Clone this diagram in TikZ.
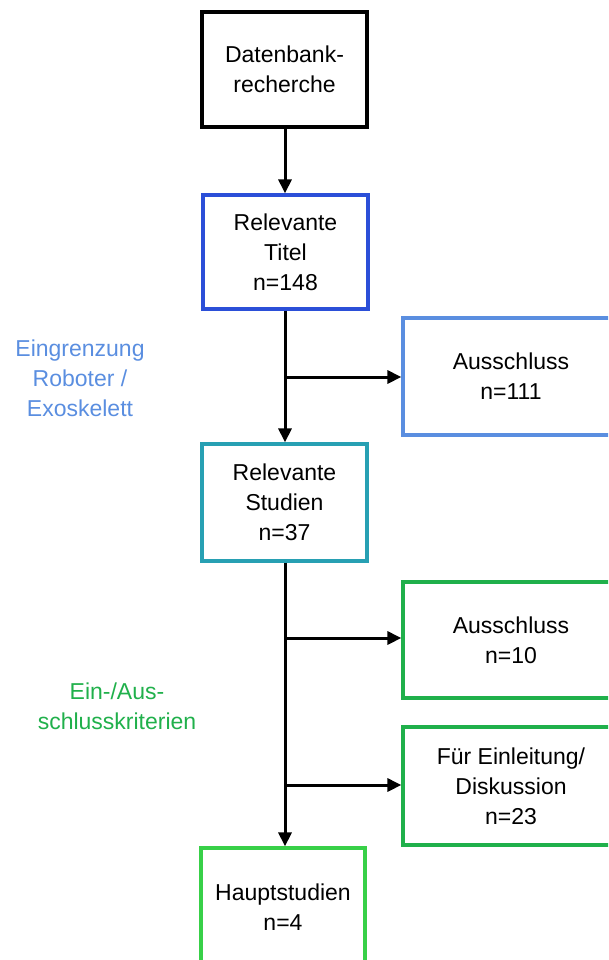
\documentclass[tikz,border=0pt]{standalone}
\usepackage{fontspec}
\setmainfont{Liberation Sans}
\usetikzlibrary{arrows.meta}
\definecolor{cBlue}{HTML}{2B4FD8}
\definecolor{cLBlue}{HTML}{5A8EE0}
\definecolor{cTeal}{HTML}{27A0B3}
\definecolor{cGreen}{HTML}{20B04B}
\definecolor{cBGreen}{HTML}{38D048}
\tikzset{
  box/.style={draw, line width=3.2pt, align=center, inner sep=0pt,
    font=\fontsize{23}{30}\selectfont, text=black},
  conn/.style={line width=3pt, -{Triangle[length=14pt,width=13pt]}},
  lbl/.style={align=center, font=\fontsize{23}{30}\selectfont},
}
\begin{document}
\begin{tikzpicture}[x=1pt,y=-1pt]
\useasboundingbox (0,0) rectangle (608,960);
\clip (0,0) rectangle (608,960);
\node[box, line width=4pt, minimum width=165pt, minimum height=115pt] (db) at (284.5,69.5) {Datenbank-\\recherche};
\node[box, draw=cBlue, minimum width=165pt, minimum height=114pt] (titel) at (285.5,252) {Relevante\\Titel\\n=148};
\node[box, draw=cLBlue, minimum width=216pt, minimum height=117pt] (aus1) at (511,376.5) {Ausschluss\\n=111};
\node[box, draw=cTeal, minimum width=165pt, minimum height=117pt] (stud) at (284.5,502.5) {Relevante\\Studien\\n=37};
\node[box, draw=cGreen, minimum width=216pt, minimum height=116pt] (aus2) at (511,640) {Ausschluss\\n=10};
\node[box, draw=cGreen, minimum width=216pt, minimum height=118pt] (einl) at (511,786) {Für Einleitung/\\Diskussion\\n=23};
\node[box, draw=cBGreen, minimum width=164pt, minimum height=118pt] (haupt) at (283,907) {Hauptstudien\\n=4};

\node[lbl, text=cLBlue] (l1) at (80,378) {Eingrenzung\\Roboter /\\Exoskelett};
\node[lbl, text=cGreen] (l2) at (117,706) {Ein-/Aus-\\schlusskriterien};

\coordinate (b1) at (285,377);
\coordinate (b2) at (286,638);
\coordinate (b3) at (286,785);

\draw[conn] (db.south -| 285,0) -- (titel.north -| 285,0);
\draw[conn] (titel.south -| 285,0) -- (stud.north -| 285,0);
\draw[conn] (b1) -- (aus1.west |- b1);
\draw[conn] (stud.south -| 285,0) -- (haupt.north -| 285,0);
\draw[conn] (b2) -- (aus2.west |- b2);
\draw[conn] (b3) -- (einl.west |- b3);
\end{tikzpicture}
\end{document}
